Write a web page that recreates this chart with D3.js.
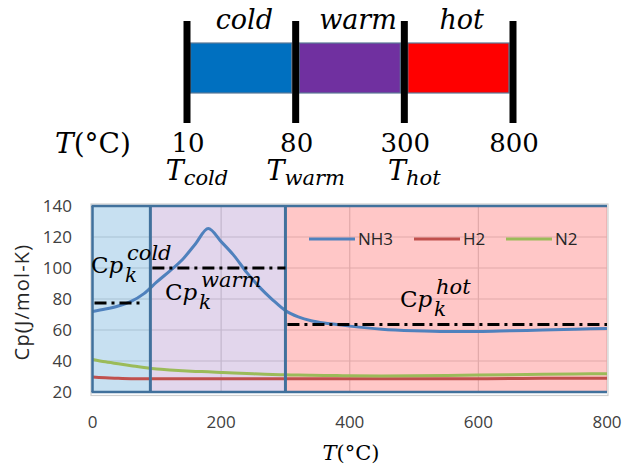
<!DOCTYPE html>
<meta charset="utf-8">
<style>
body { margin: 0; background: #fff; }
.tick-label { font: 17px "Open Sans", sans-serif; fill: #404040; }
.serif { font-family: "DejaVu Serif", serif; fill: #000; }
</style>
<body>
<script src="https://cdn.jsdelivr.net/npm/d3@7"></script>
<script>
// temperature stages of the schematic
var stageTemps = [10, 80, 300, 800];
var stageNames = ["cold", "warm", "hot"];
var stageColors = ["#0070c0", "#7030a0", "#ff0000"];

// Cp curves (J/mol-K) vs T (°C)
var temps = [0, 20, 40, 60, 80, 100, 120, 140, 160, 180, 200, 220, 240, 260, 280, 300,
             320, 340, 360, 380, 400, 450, 500, 550, 600, 650, 700, 750, 800];
var nh3 = [72, 73.5, 75.5, 78.5, 83.5, 91, 98, 105.5, 115.5, 125.5, 117, 108, 97, 87.5, 79.5, 72.5,
           68.5, 66, 64.5, 63.5, 62.5, 60.5, 59.5, 59, 59, 59.5, 60, 60.5, 61];
var h2 = [29.6, 29.2, 28.8, 28.6, 28.6, 28.6, 28.6, 28.6, 28.6, 28.6, 28.6, 28.6, 28.6, 28.6, 28.6, 28.6,
          28.6, 28.6, 28.6, 28.6, 28.6, 28.6, 28.6, 28.6, 28.6, 28.7, 28.8, 28.8, 28.8];
var n2 = [41, 39.5, 38.2, 37, 35.8, 34.8, 34.2, 33.7, 33.3, 33, 32.6, 32.2, 31.9, 31.6, 31.3, 31.1,
          30.9, 30.8, 30.7, 30.6, 30.5, 30.4, 30.5, 30.7, 31, 31.2, 31.4, 31.6, 31.8];
var seriesNames = ["NH3", "H2", "N2"];
var seriesColors = ["#4f81bd", "#c0504d", "#9bbb59"];

// shaded regions and their averaged Cp levels
var regionBounds = [0, 90, 300, 800];
var cpLevels = [77.5, 100, 63.5];

var xTicks = [0, 200, 400, 600, 800];
var yTicks = [20, 40, 60, 80, 100, 120, 140];

var svg = d3.select("body").append("svg")
    .attr("width", 626)
    .attr("height", 470);

// ---------- top schematic ----------
var sx = d3.scalePoint().domain(stageTemps).range([187, 513]);
var schem = svg.append("g");

schem.selectAll(".stage")
    .data(stageNames)
  .enter().append("rect")
    .attr("x", function(d, i) { return sx(stageTemps[i]) + 3.5; })
    .attr("y", 43)
    .attr("width", function(d, i) { return sx(stageTemps[i + 1]) - sx(stageTemps[i]) - 7.5; })
    .attr("height", 50)
    .attr("fill", function(d, i) { return stageColors[i]; })
    .attr("stroke", "#5a7896")
    .attr("stroke-width", 1.2);

schem.selectAll(".bound")
    .data(stageTemps)
  .enter().append("line")
    .attr("x1", function(d) { return sx(d); })
    .attr("x2", function(d) { return sx(d); })
    .attr("y1", 21)
    .attr("y2", 123)
    .attr("stroke", "#000")
    .attr("stroke-width", 7);

schem.selectAll(".stage-name")
    .data(stageNames)
  .enter().append("text")
    .attr("class", "serif")
    .attr("x", function(d, i) { return (sx(stageTemps[i]) + sx(stageTemps[i + 1])) / 2 + (i == 1 ? 8 : 3); })
    .attr("y", 29)
    .attr("text-anchor", "middle")
    .style("font-size", "27px")
    .style("font-style", "italic")
    .text(function(d) { return d; });

schem.selectAll(".stage-temp")
    .data(stageTemps)
  .enter().append("text")
    .attr("class", "serif")
    .attr("x", function(d) { return sx(d) + 1; })
    .attr("y", 152)
    .attr("text-anchor", "middle")
    .style("font-size", "26px")
    .text(function(d) { return d; });

var tl = schem.selectAll(".stage-sym")
    .data(stageNames)
  .enter().append("text")
    .attr("class", "serif")
    .attr("x", function(d, i) { return sx(stageTemps[i]) + 10; })
    .attr("y", 180)
    .attr("text-anchor", "middle")
    .style("font-style", "italic")
    .style("font-size", "27px");
tl.append("tspan").text("T");
tl.append("tspan").attr("dy", 5).style("font-size", "21px").text(function(d) { return d; });

var tc = schem.append("text")
    .attr("class", "serif")
    .attr("x", 55)
    .attr("y", 153)
    .style("font-size", "28px");
tc.append("tspan").style("font-style", "italic").text("T");
tc.append("tspan").text("(°C)");

// ---------- Cp chart ----------
var x = d3.scaleLinear().domain([0, 800]).range([92.5, 607]);
var y = d3.scaleLinear().domain([20, 140]).range([392, 206]);
var chart = svg.append("g");

// outer plot border
chart.append("rect")
    .attr("x", 91).attr("y", 204)
    .attr("width", 517).attr("height", 191.5)
    .attr("fill", "#fff")
    .attr("stroke", "#d0d0d0")
    .attr("stroke-width", 1.2);

// gridlines
chart.selectAll(".hgrid")
    .data(yTicks)
  .enter().append("line")
    .attr("x1", x(0)).attr("x2", x(800))
    .attr("y1", function(d) { return y(d); })
    .attr("y2", function(d) { return y(d); })
    .attr("stroke", "#d9d9d9")
    .attr("stroke-width", 1.2);

chart.selectAll(".vgrid")
    .data(xTicks)
  .enter().append("line")
    .attr("x1", function(d) { return x(d); })
    .attr("x2", function(d) { return x(d); })
    .attr("y1", y(140)).attr("y2", y(20))
    .attr("stroke", "#d9d9d9")
    .attr("stroke-width", 1.2);

// translucent regions
chart.selectAll(".region")
    .data(stageNames)
  .enter().append("rect")
    .attr("x", function(d, i) { return x(regionBounds[i]); })
    .attr("y", y(140))
    .attr("width", function(d, i) { return x(regionBounds[i + 1]) - x(regionBounds[i]); })
    .attr("height", y(20) - y(140))
    .attr("fill", function(d, i) { return stageColors[i]; })
    .attr("fill-opacity", function(d, i) { return i == 1 ? 0.2 : 0.22; });

// series
var line = d3.line()
    .x(function(d, i) { return x(temps[i]); })
    .y(function(d) { return y(d); })
    .curve(d3.curveMonotoneX);

[nh3, h2, n2].forEach(function(s, k) {
  chart.append("path")
      .datum(s)
      .attr("d", line)
      .attr("fill", "none")
      .attr("stroke", seriesColors[k])
      .attr("stroke-width", 3);
});

// legend
var legendX = [309, 414, 506];
var legend = chart.selectAll(".legend")
    .data(seriesNames)
  .enter().append("g")
    .attr("transform", function(d, i) { return "translate(" + legendX[i] + ",239)"; });
legend.append("line")
    .attr("x1", 0).attr("x2", 46)
    .attr("stroke", function(d, i) { return seriesColors[i]; })
    .attr("stroke-width", 3);
legend.append("text")
    .attr("x", 49)
    .attr("dy", "0.36em")
    .style("font", "17px 'Open Sans', sans-serif")
    .style("fill", "#262626")
    .text(function(d) { return d; });

// region borders
chart.selectAll(".region-edge")
    .data(regionBounds.slice(0, 3))
  .enter().append("line")
    .attr("x1", function(d) { return x(d); })
    .attr("x2", function(d) { return x(d); })
    .attr("y1", y(140)).attr("y2", y(20))
    .attr("stroke", "#41719c")
    .attr("stroke-width", function(d, i) { return i == 0 ? 2.5 : 3; });
[140, 20].forEach(function(v) {
  chart.append("line")
      .attr("x1", x(0) - 1).attr("x2", x(800))
      .attr("y1", y(v)).attr("y2", y(v))
      .attr("stroke", "#41719c")
      .attr("stroke-width", 2.5);
});

// averaged Cp levels
chart.selectAll(".cp-level")
    .data(cpLevels)
  .enter().append("line")
    .attr("x1", function(d, i) { return x(regionBounds[i]) + 2; })
    .attr("x2", function(d, i) { return x(regionBounds[i + 1]) - (i == 0 ? 6 : 0); })
    .attr("y1", function(d) { return y(d); })
    .attr("y2", function(d) { return y(d); })
    .attr("stroke", "#000")
    .attr("stroke-width", 3)
    .attr("stroke-dasharray", "12,5,3,5");

// Cp annotations
var cpLabelPos = [[91, 273], [165, 300], [400, 307]];
cpLabelPos.forEach(function(p, i) {
  var g = chart.append("g").attr("class", "serif").style("font-family", "'DejaVu Serif', serif");
  var t = g.append("text").attr("x", p[0]).attr("y", p[1]).style("font-size", "23px");
  t.append("tspan").text("C");
  t.append("tspan").style("font-style", "italic").text("p");
  g.append("text").attr("x", p[0] + 34).attr("y", p[1] + 9)
      .style("font-size", "20px").style("font-style", "italic").text("k");
  g.append("text").attr("x", p[0] + 36).attr("y", p[1] - 13)
      .style("font-size", "21px").style("font-style", "italic").text(stageNames[i]);
});

// axes labels
chart.selectAll(".ytick")
    .data(yTicks)
  .enter().append("text")
    .attr("class", "tick-label")
    .attr("x", 72)
    .attr("y", function(d) { return y(d); })
    .attr("dy", "0.36em")
    .attr("text-anchor", "end")
    .text(function(d) { return d; });

chart.selectAll(".xtick")
    .data(xTicks)
  .enter().append("text")
    .attr("class", "tick-label")
    .attr("x", function(d) { return x(d); })
    .attr("y", 428)
    .attr("text-anchor", "middle")
    .text(function(d) { return d; });

chart.append("text")
    .attr("transform", "translate(29,302) rotate(-90)")
    .attr("text-anchor", "middle")
    .style("font", "20px 'Open Sans', sans-serif")
    .style("letter-spacing", "1.2px")
    .style("fill", "#262626")
    .text("Cp(J/mol-K)");

var xt = chart.append("text")
    .attr("class", "serif")
    .attr("x", 351)
    .attr("y", 460)
    .attr("text-anchor", "middle")
    .style("font-size", "21px");
xt.append("tspan").style("font-style", "italic").text("T");
xt.append("tspan").text("(°C)");
</script>
</body>
